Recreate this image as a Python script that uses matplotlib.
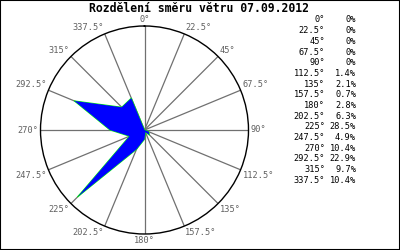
import numpy as np
import matplotlib
matplotlib.use("Agg")
import matplotlib.pyplot as plt
from matplotlib.patches import Rectangle

directions = [0, 22.5, 45, 67.5, 90, 112.5, 135, 157.5, 180,
              202.5, 225, 247.5, 270, 292.5, 315, 337.5]
dir_labels = ["0", "22.5", "45", "67.5", "90", "112.5", "135", "157.5", "180",
              "202.5", "225", "247.5", "270", "292.5", "315", "337.5"]
shares = [0, 0, 0, 0, 0, 1.4, 2.1, 0.7, 2.8, 6.3, 28.5, 4.9, 10.4, 22.9, 9.7, 10.4]
share_labels = ["0%", "0%", "0%", "0%", "0%", "1.4%", "2.1%", "0.7%", "2.8%",
                "6.3%", "28.5%", "4.9%", "10.4%", "22.9%", "9.7%", "10.4%"]
title = "Rozdělení směru větru 07.09.2012"

mono = "DejaVu Sans Mono"

fig = plt.figure(figsize=(4, 2.5), dpi=100)
fig.patch.set_facecolor("white")

# polar plot, centre ~ (144.5, 130) px, radius ~104 px
ax = fig.add_axes([40.5 / 400, 16 / 250, 208 / 400, 208 / 250], projection="polar")
ax.set_theta_zero_location("N")
ax.set_theta_direction(-1)
rmax = max(shares) * 1.1
ax.set_ylim(0, rmax)
ax.set_xticks([])
ax.set_yticks([])
ax.grid(False)
ax.spines["polar"].set_color("black")
ax.spines["polar"].set_linewidth(1.0)

theta = np.deg2rad(directions)

# spokes
for th in theta:
    ax.plot([th, th], [0, rmax], color="#707070", lw=0.9, zorder=1)

# wind rose polygon
th_c = np.append(theta, theta[0])
r_c = np.append(shares, shares[0])
ax.plot(th_c, r_c, color="#00ff00", lw=0.8, zorder=2)
ax.fill(th_c, r_c, color="#0000ff", lw=0, zorder=3)

# direction labels outside the circle
for th, lab in zip(theta, dir_labels):
    s, c = np.sin(th), np.cos(th)
    ha = "left" if s > 0.1 else ("right" if s < -0.1 else "center")
    va = "bottom" if c > 0.1 else ("top" if c < -0.1 else "center")
    ax.text(th, rmax * 1.02, lab + "°", ha=ha, va=va, fontsize=6.2,
            family=mono, color="#606060", clip_on=False)

fig.text(0.4975, 0.964, title, ha="center", va="center", fontsize=8.3,
         family=mono, fontweight="bold", color="black")

# table on the right
for i, (d, p) in enumerate(zip(dir_labels, share_labels)):
    y = 1 - (20 + i * 10.67) / 250
    fig.text(325 / 400, y, d + "°", ha="right", va="center", fontsize=6.2,
             family=mono, color="black")
    fig.text(356 / 400, y, p, ha="right", va="center", fontsize=6.2,
             family=mono, color="black")

fig.add_artist(Rectangle((0, 0), 1, 1, transform=fig.transFigure, fill=False,
                         ec="black", lw=1.5))

fig.savefig("out.png", dpi=100)
